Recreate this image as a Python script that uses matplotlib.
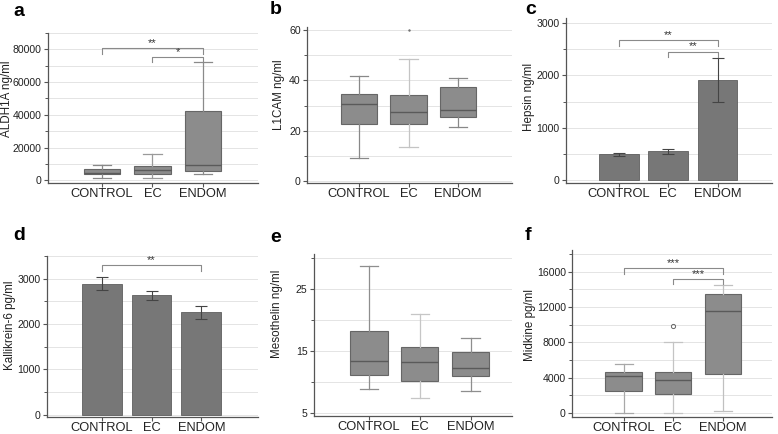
import matplotlib
matplotlib.use("Agg")
import matplotlib.pyplot as plt
from matplotlib.ticker import MultipleLocator, FixedLocator

plt.rcParams["font.family"] = ["Liberation Sans", "DejaVu Sans"]

CATS = ["CONTROL", "EC", "ENDOM"]

# a: ALDH1A boxplot
aldh_lo  = [1600, 1600, 3500]
aldh_q1  = [3700, 3700, 5700]
aldh_med = [4500, 6500, 9000]
aldh_q3  = [7100, 8800, 42400]
aldh_hi  = [9600, 16100, 72000]

# b: L1CAM boxplot
l1_lo  = [9.1, 13.5, 21.4]
l1_q1  = [22.6, 22.6, 25.6]
l1_med = [30.7, 27.3, 28.1]
l1_q3  = [34.4, 34.1, 37.5]
l1_hi  = [41.6, 48.4, 41.0]
l1_out = [[], [60], []]

# c: Hepsin bars (mean, error)
hep_mean = [495, 555, 1910]
hep_err  = [35, 45, 410]

# d: Kallikrein-6 bars
klk_mean = [2890, 2635, 2262]
klk_err  = [147, 100, 143]

# e: Mesothelin boxplot
mes_lo  = [8.9, 7.4, 8.5]
mes_q1  = [11.05, 10.1, 10.95]
mes_med = [13.4, 13.2, 12.2]
mes_q3  = [18.2, 15.65, 14.8]
mes_hi  = [28.6, 20.9, 17.05]

# f: Midkine boxplot
mdk_lo  = [40, 40, 230]
mdk_q1  = [2450, 2190, 4440]
mdk_med = [4140, 3690, 11600]
mdk_q3  = [4670, 4670, 13440]
mdk_hi  = [5540, 8020, 14460]
mdk_out = [[], [9870], []]

# significance brackets: (from, to, height, tail end, stars)
sig_a = [(0, 2, 80600, 77000, "**"), (1, 2, 75100, 72000, "*")]
sig_c = [(0, 2, 2662, 2553, "**"), (1, 2, 2451, 2349, "**")]
sig_d = [(0, 2, 3309, 3162, "**")]
sig_f = [(0, 2, 16378, 15740, "***"), (1, 2, 15210, 14600, "***")]

W, H = 778, 434
fig = plt.figure(figsize=(W / 100, H / 100), dpi=100)


def add_ax(l, t, r, b):
    return fig.add_axes([l / W, 1 - b / H, (r - l) / W, (b - t) / H])


def style(ax, ylim, xlim, major, minor, label, lab_xy, fixed=None):
    ax.set_ylim(*ylim)
    ax.set_xlim(*xlim)
    if fixed:
        ax.yaxis.set_major_locator(FixedLocator(fixed[0]))
        ax.yaxis.set_minor_locator(FixedLocator(fixed[1]))
    else:
        ax.yaxis.set_major_locator(MultipleLocator(major))
        ax.yaxis.set_minor_locator(MultipleLocator(minor))
    ax.set_xticks(range(3))
    ax.set_xticklabels(CATS)
    for s in ["top", "right"]:
        ax.spines[s].set_visible(False)
    for s in ["left", "bottom"]:
        ax.spines[s].set_color("#555555")
        ax.spines[s].set_linewidth(0.9)
    ax.tick_params(axis="y", which="major", labelsize=7.6, length=3, width=0.8,
                   color="#555555", pad=1.5, labelcolor="#222222")
    ax.tick_params(axis="y", which="minor", length=2, width=0.7, color="#555555")
    ax.tick_params(axis="x", labelsize=9.3, length=3, width=0.8, color="#555555",
                   pad=0.8, labelcolor="#222222")
    ax.yaxis.grid(True, which="both", color="#e4e4e4", lw=0.7)
    ax.set_axisbelow(True)
    ax.set_ylabel(label, fontsize=8.4, color="#222222")
    ax.yaxis.set_label_coords(*lab_xy)
    return ax


def panel_letter(x, y, s):
    fig.text(x / W, 1 - y / H, s, fontsize=14, fontweight="bold", va="center", ha="left")


def boxes(ax, lo, q1, med, q3, hi, whis_cols, out=None, ms=3):
    stats = []
    for i in range(3):
        stats.append(dict(whislo=lo[i], q1=q1[i], med=med[i], q3=q3[i], whishi=hi[i],
                          fliers=out[i] if out else []))
    bp = ax.bxp(stats, positions=range(3), widths=0.73, patch_artist=True,
                boxprops=dict(facecolor="#8c8c8c", edgecolor="#666666", lw=0.8),
                medianprops=dict(color="#5a5a5a", lw=1.0),
                whiskerprops=dict(color="#8a8a8a", lw=0.9),
                capprops=dict(color="#8a8a8a", lw=0.9),
                flierprops=dict(marker="o", mfc="none", mec="#666666", ms=ms, mew=0.7))
    for i, c in enumerate(whis_cols):
        for k in (2 * i, 2 * i + 1):
            bp["whiskers"][k].set_color(c)
            bp["caps"][k].set_color(c)
    return bp


def bars(ax, mean, err):
    ax.bar(range(3), mean, width=0.8, color="#777777", edgecolor="#5e5e5e", lw=0.6,
           yerr=err, capsize=4.5, error_kw=dict(ecolor="#444444", elinewidth=0.8, capthick=0.8))


def brackets(ax, sig):
    for i, j, y, tail, s in sig:
        ax.plot([i, i, j, j], [tail, y, y, tail], color="#8a8a8a", lw=0.8)
        ax.text((i + j) / 2, y, s, ha="center", va="bottom", fontsize=8, color="#333333")


# a
ax = add_ax(48, 33, 258, 183)
boxes(ax, aldh_lo, aldh_q1, aldh_med, aldh_q3, aldh_hi, ["#888888", "#9a9a9a", "#8a8a8a"])
brackets(ax, sig_a)
style(ax, (-1700, 90000), (-1.07, 3.09), 20000, 10000, "ALDH1A ng/ml", (-0.167, 0.56))
panel_letter(13, 11, "a")

# b
ax = add_ax(307, 27, 512, 183)
boxes(ax, l1_lo, l1_q1, l1_med, l1_q3, l1_hi, ["#888888", "#c4c4c4", "#888888"], l1_out, ms=1)
style(ax, (-0.6, 61), (-1.05, 3.09), 20, 10, "L1CAM ng/ml", (-0.107, 0.564))
panel_letter(270, 9, "b")

# c
ax = add_ax(566, 18, 772, 183)
bars(ax, hep_mean, hep_err)
brackets(ax, sig_c)
style(ax, (-50, 3090), (-1.07, 3.1), 1000, 500, "Hepsin ng/ml", (-0.15, 0.52))
panel_letter(525, 10, "c")

# d
ax = add_ax(47, 256, 258, 417)
bars(ax, klk_mean, klk_err)
brackets(ax, sig_d)
style(ax, (-50, 3500), (-1.1, 3.14), 1000, 500, "Kallikrein-6 pg/ml", (-0.145, 0.57))
panel_letter(13, 235, "d")

# e
ax = add_ax(314, 254, 512, 416)
boxes(ax, mes_lo, mes_q1, mes_med, mes_q3, mes_hi, ["#8e8e8e", "#c6c6c6", "#8e8e8e"])
style(ax, (4.5, 30.6), (-1.08, 2.81), None, None, "Mesothelin ng/ml", (-0.157, 0.63),
      fixed=([5, 15, 25], [10, 20, 30]))
panel_letter(270, 237, "e")

# f
ax = add_ax(572, 250, 772, 417)
boxes(ax, mdk_lo, mdk_q1, mdk_med, mdk_q3, mdk_hi, ["#a8a8a8", "#c4c4c4", "#c0c0c0"], mdk_out)
brackets(ax, sig_f)
style(ax, (-450, 18450), (-1.04, 2.99), 4000, 2000, "Midkine pg/ml", (-0.178, 0.55))
panel_letter(525, 235, "f")

fig.savefig("out.png", dpi=100)
